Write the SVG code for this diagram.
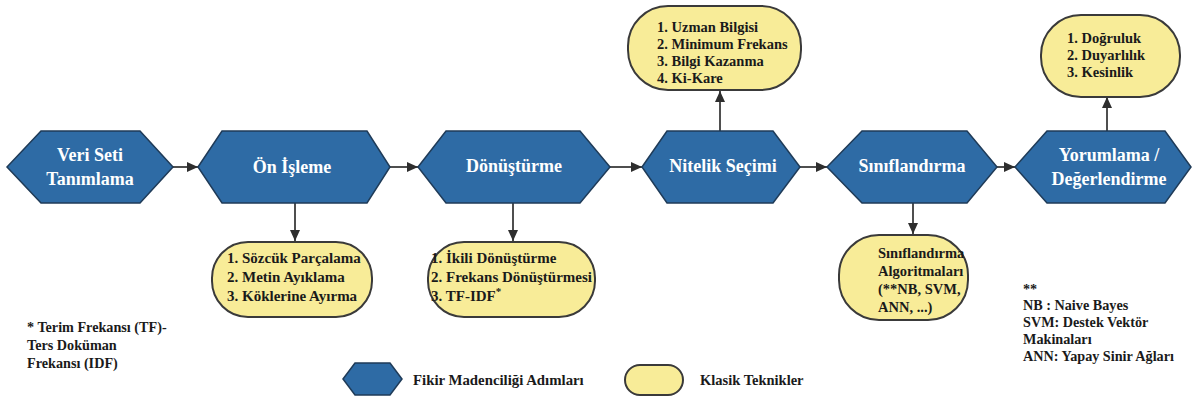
<svg xmlns="http://www.w3.org/2000/svg" width="1193" height="399" viewBox="0 0 1193 399">
<style>
.hex{fill:#2E6BA5;stroke:#1F3B58;stroke-width:1.5}
.oval{fill:#F8EC98;stroke:#3A3A3A;stroke-width:2}
text{font-family:"Liberation Serif","Times New Roman",Tinos,"DejaVu Serif",serif;font-weight:bold}
.ht{font-size:18px;fill:#FFFFFF;text-anchor:middle}
.bt{font-size:15px;fill:#1A1A1A}
.st{font-size:14.5px;fill:#1A1A1A}
.nt{font-size:14.2px;fill:#1A1A1A}
.lt{font-size:14.8px;fill:#1A1A1A}
.con{stroke:#3C3C3C;stroke-width:1.8;fill:none;marker-end:url(#ah)}
</style>
<defs>
<marker id="ah" markerUnits="userSpaceOnUse" markerWidth="11" markerHeight="10" refX="11" refY="5" orient="auto">
<path d="M0,0 L11,5 L0,10 Z" fill="#2E2E2E"/>
</marker>
</defs>
<rect width="1193" height="399" fill="#FFFFFF"/>
<g id="connectors">
<line class="con" x1="173" y1="167" x2="198" y2="167"/>
<line class="con" x1="390" y1="167" x2="418" y2="167"/>
<line class="con" x1="610" y1="167" x2="642" y2="167"/>
<line class="con" x1="800" y1="167" x2="827" y2="167"/>
<line class="con" x1="997" y1="167" x2="1015" y2="167"/>
<line class="con" x1="295" y1="203" x2="295" y2="241"/>
<line class="con" x1="513" y1="203" x2="513" y2="241"/>
<line class="con" x1="913" y1="203" x2="913" y2="234"/>
<line class="con" x1="720" y1="131" x2="720" y2="91"/>
<line class="con" x1="1107" y1="131" x2="1107" y2="97"/>
</g>
<g id="n1">
<polygon class="hex" points="7,167 41,131 140,131 173,167 140,203 41,203"/>
<text class="ht" x="90" y="161">Veri Seti</text>
<text class="ht" x="90" y="185">Tanımlama</text>
</g>
<g id="n2">
<polygon class="hex" points="198,167 222,131 367,131 390,167 367,203 222,203"/>
<text class="ht" x="292" y="173">Ön İşleme</text>
</g>
<g id="n3">
<polygon class="hex" points="418,167 446,131 580,131 610,167 580,203 446,203"/>
<text class="ht" x="514" y="172">Dönüştürme</text>
</g>
<g id="n4">
<polygon class="hex" points="642,167 667,131 773,131 800,167 773,203 667,203"/>
<text class="ht" x="723" y="172">Nitelik Seçimi</text>
</g>
<g id="n5">
<polygon class="hex" points="827,167 862,131 967,131 997,167 967,203 862,203"/>
<text class="ht" x="912" y="172">Sınıflandırma</text>
</g>
<g id="n6">
<polygon class="hex" points="1015,167 1047,131 1165,131 1191,167 1165,203 1047,203"/>
<text class="ht" x="1109" y="161">Yorumlama /</text>
<text class="ht" x="1109" y="185">Değerlendirme</text>
</g>
<g id="b1">
<rect class="oval" x="212" y="242" width="160" height="75" rx="36" ry="36"/>
<text class="bt" x="227" y="263">1. Sözcük Parçalama</text>
<text class="bt" x="227" y="282">2. Metin Ayıklama</text>
<text class="bt" x="227" y="301">3. Köklerine Ayırma</text>
</g>
<g id="b2">
<rect class="oval" x="428" y="242" width="167" height="75" rx="36" ry="36"/>
<text class="bt" x="431" y="263">1. İkili Dönüştürme</text>
<text class="bt" x="431" y="282">2. Frekans Dönüştürmesi</text>
<text class="bt" x="431" y="301">3. TF-IDF<tspan dy="-6" font-size="11">*</tspan></text>
</g>
<g id="b3">
<rect class="oval" x="628" y="6" width="173" height="84" rx="40" ry="40"/>
<text class="st" x="657" y="32">1. Uzman Bilgisi</text>
<text class="st" x="657" y="49">2. Minimum Frekans</text>
<text class="st" x="657" y="66">3. Bilgi Kazanma</text>
<text class="st" x="657" y="83">4. Ki-Kare</text>
</g>
<g id="b4">
<rect class="oval" x="1041" y="15" width="139" height="82" rx="40" ry="40"/>
<text class="st" x="1067" y="43">1. Doğruluk</text>
<text class="st" x="1067" y="60">2. Duyarlılık</text>
<text class="st" x="1067" y="77">3. Kesinlik</text>
</g>
<g id="b5">
<rect class="oval" x="839" y="235" width="129" height="85" rx="40" ry="40"/>
<text class="st" x="878" y="258">Sınıflandırma</text>
<text class="st" x="878" y="276">Algoritmaları</text>
<text class="st" x="878" y="294">(**NB, SVM,</text>
<text class="st" x="878" y="312">ANN, ...)</text>
</g>
<g id="note1">
<text class="nt" x="27" y="332">* Terim Frekansı (TF)-</text>
<text class="nt" x="27" y="350">Ters Doküman</text>
<text class="nt" x="27" y="368">Frekansı (IDF)</text>
</g>
<g id="note2">
<text class="nt" x="1023" y="294">**</text>
<text class="nt" x="1023" y="310">NB : Naive Bayes</text>
<text class="nt" x="1023" y="327">SVM: Destek Vektör</text>
<text class="nt" x="1023" y="344">Makinaları</text>
<text class="nt" x="1023" y="361">ANN: Yapay Sinir Ağları</text>
</g>
<g id="legend">
<polygon class="hex" points="343,379 355,363 390,363 402,379 390,395 355,395"/>
<text class="lt" x="413" y="385">Fikir Madenciliği Adımları</text>
<rect class="oval" x="625" y="365" width="58" height="30" rx="15" ry="15"/>
<text class="st" x="700" y="385">Klasik Teknikler</text>
</g>
</svg>
